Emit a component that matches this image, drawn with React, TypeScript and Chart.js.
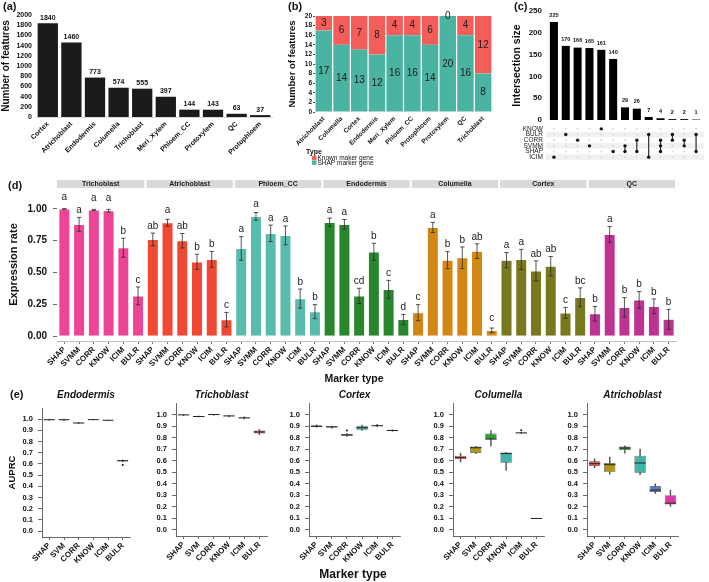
import React, { useEffect, useRef } from 'react';
import { Chart, registerables } from 'chart.js';

Chart.register(...registerables);

const FONT = "'Liberation Sans', Arial, Helvetica, sans-serif";
const INK = '#111111';
const f = (size: number, weight: string = 'normal', style: string = 'normal') => ({ family: FONT, size, weight, style, lineHeight: 1.2 });

// ---------------- (a) number of features ----------------
const aCategories = ['Cortex', 'Atrichoblast', 'Endodermis', 'Columella', 'Trichoblast', 'Meri_Xylem', 'Phloem_CC', 'Protoxylem', 'QC', 'Protophloem'];
const aValues = [1840, 1460, 773, 574, 555, 397, 144, 143, 63, 37];
const aTicks = [0, 200, 400, 600, 800, 1000, 1200, 1400, 1600, 1800, 2000];

// ---------------- (b) stacked marker genes ----------------
const bCategories = ['Atrichoblast', 'Columella', 'Cortex', 'Endodermis', 'Meri_Xylem', 'Phloem_CC', 'Protophloem', 'Protoxylem', 'QC', 'Trichoblast'];
const bShap = [17, 14, 13, 12, 16, 16, 14, 20, 16, 8];
const bKnown = [3, 6, 7, 8, 4, 4, 6, 0, 4, 12];
const bTicks = [0, 2, 4, 6, 8, 10, 12, 14, 16, 18, 20];
const bRed = '#F35E5A';
const bTeal = '#4BB3A2';

// ---------------- (c) upset ----------------
const cSets = ['KNOW', 'BULR', 'CORR', 'SVMM', 'SHAP', 'ICIM'];
const cSizes = [225, 170, 166, 165, 161, 140, 29, 26, 7, 4, 2, 2, 1];
const cMembers = [
  ['ICIM'], ['BULR'], ['CORR'], ['SVMM'], ['KNOW'], ['SHAP'],
  ['SVMM', 'SHAP'], ['CORR', 'SHAP'], ['BULR', 'ICIM'], ['CORR', 'SVMM', 'SHAP'],
  ['BULR', 'CORR'], ['CORR', 'SVMM'], ['BULR', 'SHAP'],
];
const cTicks = [0, 50, 100, 150, 200, 250];

// ---------------- (d) expression rate ----------------
const dFacets = ['Trichoblast', 'Atrichoblast', 'Phloem_CC', 'Endodermis', 'Columella', 'Cortex', 'QC'];
const dMarkers = ['SHAP', 'SVMM', 'CORR', 'KNOW', 'ICIM', 'BULR'];
const dColors = ['#EE4496', '#F04832', '#58BCAC', '#28872D', '#D28714', '#78781E', '#BE3291'];
const dMeans = [
  [1.0, 0.879, 0.992, 0.987, 0.695, 0.316],
  [0.76, 0.892, 0.75, 0.584, 0.603, 0.129],
  [0.689, 0.942, 0.808, 0.792, 0.295, 0.192],
  [0.895, 0.879, 0.316, 0.663, 0.368, 0.13],
  [0.184, 0.855, 0.597, 0.616, 0.668, 0.045],
  [0.597, 0.603, 0.513, 0.55, 0.182, 0.305],
  [0.176, 0.8, 0.226, 0.284, 0.234, 0.132],
];
const dSE = [
  [0.002, 0.055, 0.005, 0.01, 0.075, 0.07],
  [0.05, 0.027, 0.057, 0.06, 0.063, 0.057],
  [0.093, 0.03, 0.065, 0.074, 0.075, 0.055],
  [0.033, 0.038, 0.06, 0.067, 0.07, 0.04],
  [0.063, 0.04, 0.067, 0.085, 0.058, 0.018],
  [0.06, 0.079, 0.079, 0.076, 0.043, 0.074],
  [0.057, 0.062, 0.076, 0.066, 0.058, 0.078],
];
const dLetters = [
  ['a', 'a', 'a', 'a', 'b', 'c'],
  ['ab', 'a', 'ab', 'b', 'b', 'c'],
  ['a', 'a', 'a', 'a', 'b', 'b'],
  ['a', 'a', 'cd', 'b', 'c', 'd'],
  ['c', 'a', 'b', 'b', 'ab', 'c'],
  ['a', 'a', 'ab', 'ab', 'c', 'bc'],
  ['b', 'a', 'b', 'b', 'b', 'b'],
];
const dTicks = [0, 0.25, 0.5, 0.75, 1.0];

// ---------------- (e) AUPRC boxplots: [min, q1, median, q3, max] ----------------
const eMarkers = ['SHAP', 'SVM', 'CORR', 'KNOW', 'ICIM', 'BULR'];
const eColors = ['#EE5252', '#B09810', '#2E9E2E', '#40B5A8', '#5A7ABE', '#D83CA8'];
const eTicks = [0, 0.1, 0.2, 0.3, 0.4, 0.5, 0.6, 0.7, 0.8, 0.9, 1.0];
const eEndodermis = [[0.99, 0.993, 0.995, 0.997, 1.0], [0.99, 0.993, 0.995, 0.997, 1.0], [0.962, 0.964, 0.966, 0.968, 0.97], [0.994, 0.995, 0.996, 0.997, 0.998], [0.988, 0.989, 0.99, 0.991, 0.992], [0.62, 0.624, 0.628, 0.632, 0.636]];
const eEndodermisOut = [[], [], [], [], [], [0.59]];
const eTrichoblast = [[0.99, 0.995, 0.997, 0.999, 1.0], [0.98, 0.981, 0.983, 0.985, 0.986], [0.995, 0.998, 1.0, 1.0, 1.0], [0.98, 0.985, 0.988, 0.99, 0.992], [0.962, 0.968, 0.971, 0.974, 0.98], [0.825, 0.835, 0.849, 0.862, 0.87]];
const eTrichoblastOut = [[], [], [], [], [], []];
const eCortex = [[0.89, 0.893, 0.899, 0.905, 0.91], [0.882, 0.887, 0.893, 0.898, 0.9], [0.81, 0.817, 0.823, 0.832, 0.835], [0.862, 0.868, 0.886, 0.903, 0.908], [0.895, 0.9, 0.903, 0.906, 0.915], [0.855, 0.858, 0.862, 0.866, 0.868]];
const eCortexOut = [[], [], [0.861], [], [], []];
const eColumella = [[0.588, 0.612, 0.626, 0.643, 0.664], [0.66, 0.667, 0.712, 0.722, 0.725], [0.725, 0.783, 0.788, 0.835, 0.861], [0.516, 0.583, 0.661, 0.67, 0.67], [0.836, 0.838, 0.841, 0.843, 0.846], [0.097, 0.098, 0.099, 0.1, 0.101]];
const eColumellaOut = [[], [], [], [], [0.864], []];
const eAtrichoblast = [[0.539, 0.554, 0.574, 0.594, 0.617], [0.484, 0.501, 0.565, 0.58, 0.632], [0.664, 0.693, 0.71, 0.722, 0.728], [0.478, 0.496, 0.58, 0.643, 0.701], [0.316, 0.328, 0.345, 0.38, 0.4], [0.203, 0.22, 0.232, 0.301, 0.345]];
const eAtrichoblastOut = [[], [], [], [], [], []];

// ---------------- helpers ----------------
const fixWidth = (w: number) => (s: any) => { s.width = w; s.paddingTop = 0; s.paddingBottom = 0; };
const fixHeight = (h: number) => (s: any) => { s.height = h; s.paddingLeft = 0; s.paddingRight = 0; };
const setTicks = (vals: number[]) => (s: any) => { s.ticks = vals.map((v) => ({ value: v })); };
const baseOpts = (padding: any) => ({
  responsive: false,
  animation: false,
  events: [],
  layout: { padding },
  plugins: { legend: { display: false }, tooltip: { enabled: false }, title: { display: false } },
});
const text = (ctx: any, s: string, x: number, y: number, font: string, align = 'center', color = INK, baseline = 'middle') => {
  ctx.save();
  ctx.font = font;
  ctx.fillStyle = color;
  ctx.textAlign = align;
  ctx.textBaseline = baseline;
  ctx.fillText(s, x, y);
  ctx.restore();
};

// ---------------- chart builders ----------------
function makeA() {
  return {
    type: 'bar',
    data: { labels: aCategories, datasets: [{ data: aValues, backgroundColor: '#1b1b1b', barPercentage: 0.86, categoryPercentage: 1 }] },
    options: {
      ...baseOpts({ left: 0, right: 10, top: 15, bottom: 0 }),
      scales: {
        x: {
          grid: { display: false, drawTicks: false },
          border: { display: true, color: '#d6d6d6' },
          ticks: { font: f(7, 'bold'), color: INK, minRotation: 45, maxRotation: 45, autoSkip: false, padding: 3 },
          afterFit: fixHeight(53),
        },
        y: {
          min: 0, max: 2000,
          grid: { display: false, drawTicks: false },
          border: { display: false },
          ticks: { font: f(7, 'bold'), color: INK, padding: 4, autoSkip: false, callback: (v: any) => String(v) },
          afterBuildTicks: setTicks(aTicks),
          title: { display: true, text: 'Number of features', font: f(10, 'bold'), color: INK, padding: { top: 0, bottom: 0 } },
          afterFit: fixWidth(36),
        },
      },
    },
    plugins: [{
      id: 'aLabels',
      afterDatasetsDraw(chart: any) {
        const meta = chart.getDatasetMeta(0);
        meta.data.forEach((el: any, i: number) => text(chart.ctx, String(aValues[i]), el.x, el.y - 2, `bold 7px ${FONT}`, 'center', INK, 'bottom'));
        text(chart.ctx, '(a)', 3, 7, `bold 11px ${FONT}`, 'left');
      },
    }],
  };
}

function makeB() {
  return {
    type: 'bar',
    data: {
      labels: bCategories,
      datasets: [
        { label: 'SHAP marker gene', data: bShap, backgroundColor: bTeal, stack: 's', barPercentage: 0.93, categoryPercentage: 1 },
        { label: 'Known maker gene', data: bKnown, backgroundColor: bRed, stack: 's', barPercentage: 0.93, categoryPercentage: 1 },
      ],
    },
    options: {
      ...baseOpts({ left: 0, right: 8, top: 16, bottom: 0 }),
      scales: {
        x: {
          stacked: true,
          grid: { display: false, drawTicks: false },
          border: { display: false },
          ticks: { font: f(6.5, 'bold'), color: INK, minRotation: 45, maxRotation: 45, autoSkip: false, padding: 3 },
          afterFit: fixHeight(60),
        },
        y: {
          stacked: true, min: 0, max: 20,
          grid: { drawOnChartArea: false, drawTicks: true, tickLength: 2, color: '#555' },
          border: { display: false },
          ticks: { font: f(6.5, 'bold'), color: INK, padding: 1, autoSkip: false, callback: (v: any) => String(v) },
          afterBuildTicks: setTicks(bTicks),
          title: { display: true, text: 'Number of features', font: f(9.5, 'bold'), color: INK, padding: { top: 5, bottom: 0 } },
          afterFit: fixWidth(33),
        },
      },
    },
    plugins: [{
      id: 'bLabels',
      afterDatasetsDraw(chart: any) {
        const ctx = chart.ctx;
        [bShap, bKnown].forEach((vals, d) => {
          chart.getDatasetMeta(d).data.forEach((el: any, i: number) => {
            text(ctx, String(vals[i]), el.x, (el.y + el.base) / 2, `10px ${FONT}`, 'center', '#1a1a1a');
          });
        });
        text(ctx, '(b)', 6, 7, `bold 11px ${FONT}`, 'left');
        text(ctx, 'Type', 24, 152, `bold 7px ${FONT}`, 'left');
        ctx.save();
        ctx.fillStyle = bRed; ctx.fillRect(30, 156, 4.5, 4.3);
        ctx.fillStyle = bTeal; ctx.fillRect(30, 160.5, 4.5, 4.3);
        ctx.restore();
        text(ctx, 'Known maker gene', 35.5, 158.2, `6.5px ${FONT}`, 'left');
        text(ctx, 'SHAP marker gene', 35.5, 162.8, `6.5px ${FONT}`, 'left');
      },
    }],
  };
}

function makeCBars() {
  return {
    type: 'bar',
    data: { labels: cMembers.map((m) => m.join('&')), datasets: [{ data: cSizes, backgroundColor: '#000', barPercentage: 0.68, categoryPercentage: 1 }] },
    options: {
      ...baseOpts({ left: 0, right: 7, top: 11, bottom: 2 }),
      scales: {
        x: { display: false },
        y: {
          min: 0, max: 250,
          grid: { display: false, drawTicks: false },
          border: { display: false },
          ticks: { font: f(8, 'bold'), color: INK, padding: 6, autoSkip: false, callback: (v: any) => String(v) },
          afterBuildTicks: setTicks(cTicks),
          title: { display: true, text: 'Intersection size', font: f(10.5, 'bold'), color: INK, padding: { top: 11, bottom: 0 } },
          afterFit: fixWidth(48),
        },
      },
    },
    plugins: [{
      id: 'cLabels',
      afterDatasetsDraw(chart: any) {
        chart.getDatasetMeta(0).data.forEach((el: any, i: number) => text(chart.ctx, String(cSizes[i]), el.x, el.y - 4, `bold 5.5px ${FONT}`, 'center', INK, 'bottom'));
        text(chart.ctx, '(c)', 14, 7, `bold 11px ${FONT}`, 'left');
      },
    }],
  };
}

function makeCMatrix() {
  const all: any[] = [];
  cMembers.forEach((_, c) => cSets.forEach((__, r) => all.push({ x: c, y: r })));
  const on: any[] = [];
  const lines: any[] = [];
  cMembers.forEach((m, c) => {
    const rows = m.map((s) => cSets.indexOf(s));
    rows.forEach((r) => on.push({ x: c, y: r }));
    if (rows.length > 1) {
      lines.push({
        type: 'line', data: [{ x: c, y: Math.min(...rows) }, { x: c, y: Math.max(...rows) }],
        borderColor: '#222', borderWidth: 1.1, pointRadius: 0, showLine: true, order: 1,
      });
    }
  });
  return {
    type: 'scatter',
    data: {
      datasets: [
        { data: all, pointRadius: 1.1, backgroundColor: '#dcdcdc', borderWidth: 0, order: 2 },
        ...lines,
        { data: on, pointRadius: 1.7, backgroundColor: '#111', borderWidth: 0, order: 0 },
      ],
    },
    options: {
      ...baseOpts({ left: 0, right: 7, top: 1.6, bottom: 3.2 }),
      scales: {
        x: { type: 'linear', display: false, min: -0.5, max: cSizes.length - 0.5 },
        y: {
          type: 'linear', reverse: true, min: -0.5, max: cSets.length - 0.5,
          grid: { display: false, drawTicks: false },
          border: { display: false },
          ticks: { font: f(6.5), color: '#222', padding: 5, autoSkip: false, callback: (v: any) => cSets[v] ?? '' },
          afterBuildTicks: setTicks(cSets.map((_, i) => i)),
          afterFit: fixWidth(48),
        },
      },
    },
    plugins: [{
      id: 'stripes',
      beforeDatasetsDraw(chart: any) {
        const { ctx, chartArea } = chart;
        const ys = chart.scales.y;
        ctx.save();
        ctx.fillStyle = '#f1f1f1';
        cSets.forEach((_, r) => {
          if (r % 2 === 1) {
            const a = ys.getPixelForValue(r - 0.5);
            const b = ys.getPixelForValue(r + 0.5);
            ctx.fillRect(chartArea.left - 2, Math.min(a, b), chartArea.right - chartArea.left + 4, Math.abs(b - a));
          }
        });
        ctx.restore();
      },
    }],
  };
}

function makeD() {
  const labels = dFacets.flatMap(() => dMarkers);
  const colors = dFacets.flatMap((_, fi) => dMarkers.map(() => dColors[fi]));
  const means = dMeans.flat();
  const ses = dSE.flat();
  const letters = dLetters.flat();
  return {
    type: 'bar',
    data: { labels, datasets: [{ data: means, backgroundColor: colors, borderColor: 'rgba(255,255,255,0.35)', borderWidth: 0.6, barPercentage: 0.76, categoryPercentage: 1 }] },
    options: {
      ...baseOpts({ left: 0, right: 24, top: 18, bottom: 0 }),
      scales: {
        x: {
          grid: { display: true, drawOnChartArea: false, offset: false, drawTicks: true, tickLength: 3, color: '#444', lineWidth: 0.7 },
          border: { display: true, color: '#bdbdbd', width: 1 },
          ticks: { font: f(8, 'bold'), color: INK, minRotation: 45, maxRotation: 45, autoSkip: false, padding: 1 },
          afterFit: fixHeight(49),
        },
        y: {
          min: -0.039, max: 1.165,
          grid: { display: true, drawOnChartArea: false, drawTicks: true, tickLength: 4, color: '#444', lineWidth: 0.8 },
          border: { display: false },
          ticks: { font: f(10, 'bold'), color: INK, padding: 6, autoSkip: false, callback: (v: any) => Number(v).toFixed(2) },
          afterBuildTicks: setTicks(dTicks),
          title: { display: true, text: 'Expression rate', font: f(11, 'bold'), color: INK, padding: { top: 7, bottom: 0 } },
          afterFit: fixWidth(57),
        },
      },
    },
    plugins: [{
      id: 'dExtras',
      afterDatasetsDraw(chart: any) {
        const { ctx, chartArea } = chart;
        const xs = chart.scales.x;
        const ys = chart.scales.y;
        const meta = chart.getDatasetMeta(0);
        ctx.save();
        ctx.strokeStyle = '#2b2b2b';
        ctx.lineWidth = 0.8;
        meta.data.forEach((el: any, i: number) => {
          const yt = ys.getPixelForValue(means[i] + ses[i]);
          const yb = ys.getPixelForValue(Math.max(0, means[i] - ses[i]));
          ctx.beginPath();
          ctx.moveTo(el.x, yt); ctx.lineTo(el.x, yb);
          ctx.moveTo(el.x - 2.2, yt); ctx.lineTo(el.x + 2.2, yt);
          ctx.moveTo(el.x - 2.2, yb); ctx.lineTo(el.x + 2.2, yb);
          ctx.stroke();
        });
        ctx.restore();
        meta.data.forEach((el: any, i: number) => {
          const v = Math.max(means[i] + 0.095, means[i] + ses[i] + 0.055);
          text(ctx, letters[i], el.x, ys.getPixelForValue(v), `10px ${FONT}`, 'center', '#222');
        });
        const half = (xs.getPixelForValue(1) - xs.getPixelForValue(0)) / 2;
        dFacets.forEach((name, fi) => {
          const l = xs.getPixelForValue(fi * 6) - half + (fi === 0 ? 0 : 1);
          const r = xs.getPixelForValue(fi * 6 + 5) + half - 1;
          ctx.save();
          ctx.fillStyle = '#D9D9D9';
          ctx.fillRect(l, chartArea.top - 8, r - l, 8);
          ctx.restore();
          text(ctx, name, (l + r) / 2, chartArea.top - 4, `bold 7px ${FONT}`, 'center', '#1a1a1a');
        });
        text(ctx, '(d)', 8, 16, `bold 11px ${FONT}`, 'left');
        text(ctx, 'Marker type', 354, 209, `bold 10.5px ${FONT}`, 'center');
      },
    }],
  };
}

function makeE(title: string, stats: number[][], outliers: number[][], geo: any) {
  const outPts: any[] = [];
  outliers.forEach((o, i) => o.forEach((v) => outPts.push({ x: eMarkers[i], y: v })));
  return {
    type: 'bar',
    data: {
      labels: eMarkers,
      datasets: [
        { data: stats.map((s) => [s[0], s[4]]), backgroundColor: '#555', barThickness: 0.8, grouped: false, order: 3 },
        { data: stats.map((s) => [s[1], s[3]]), backgroundColor: eColors, borderColor: '#555', borderWidth: 0.7, borderSkipped: false, barPercentage: 0.75, categoryPercentage: 1, grouped: false, order: 2 },
        { type: 'scatter', data: outPts, pointRadius: 1, backgroundColor: '#111', borderWidth: 0, order: 1 },
      ],
    },
    options: {
      ...baseOpts({ left: 0, right: 4, top: geo.top, bottom: 0 }),
      scales: {
        x: {
          grid: { display: true, drawOnChartArea: false, offset: false, drawTicks: true, tickLength: 3, color: '#444', lineWidth: 0.8 },
          border: { display: true, color: '#444', width: 0.8 },
          ticks: { font: f(8, 'bold'), color: INK, minRotation: 45, maxRotation: 45, autoSkip: false, padding: 1 },
          afterFit: fixHeight(geo.xh),
        },
        y: {
          min: -0.053, max: 1.1,
          grid: { display: true, drawOnChartArea: false, drawTicks: true, tickLength: 4, color: '#444', lineWidth: 0.8 },
          border: { display: true, color: '#444', width: 0.8 },
          ticks: { font: f(7.5, 'bold'), color: INK, padding: 5, autoSkip: false, callback: (v: any) => Number(v).toFixed(1) },
          afterBuildTicks: setTicks(eTicks),
          title: { display: !!geo.ytitle, text: 'AUPRC', font: f(9.5, 'bold'), color: INK, padding: { top: 7, bottom: 0 } },
          afterFit: fixWidth(42),
        },
      },
    },
    plugins: [{
      id: 'eExtras',
      afterDatasetsDraw(chart: any) {
        const { ctx, chartArea } = chart;
        const ys = chart.scales.y;
        const meta = chart.getDatasetMeta(1);
        ctx.save();
        ctx.strokeStyle = '#222';
        ctx.lineWidth = 1;
        meta.data.forEach((el: any, i: number) => {
          const py = ys.getPixelForValue(stats[i][2]);
          ctx.beginPath();
          ctx.moveTo(el.x - el.width / 2, py);
          ctx.lineTo(el.x + el.width / 2, py);
          ctx.stroke();
        });
        ctx.restore();
        text(ctx, title, (chartArea.left + chartArea.right) / 2, 10, `italic bold 10px ${FONT}`, 'center');
        if (geo.label) text(ctx, '(e)', 10, 10, `bold 11px ${FONT}`, 'left');
        if (geo.xtitle) text(ctx, 'Marker type', geo.xtitle, 190, `bold 12px ${FONT}`, 'center');
      },
    }],
  };
}

// panel geometry (page px)
const eAxisX = [42, 176, 309, 453, 587];
const eRightX = [130, 267, 400, 544, 678];
const eTop = [408, 403, 403, 403, 403];
const eBottom = [537, 536, 536, 536, 536];

function ChartPanel({ left, top, width, height, make }: any) {
  const ref = useRef<HTMLCanvasElement | null>(null);
  useEffect(() => {
    if (!ref.current) return;
    const chart = new Chart(ref.current, make());
    return () => chart.destroy();
  }, []);
  return (
    <div style={{ position: 'absolute', left, top, width, height }}>
      <canvas ref={ref} width={width} height={height} style={{ display: 'block', width, height }} />
    </div>
  );
}

export default function App() {
  const panels: any[] = [
    { left: 0, top: 0, width: 282, height: 170, make: makeA },
    { left: 282, top: 0, width: 218, height: 172, make: makeB },
    { left: 500, top: 0, width: 209, height: 122, make: makeCBars },
    { left: 500, top: 122, width: 209, height: 42, make: makeCMatrix },
    { left: 0, top: 170, width: 700, height: 220, make: makeD },
  ];
  const eTitles = ['Endodermis', 'Trichoblast', 'Cortex', 'Columella', 'Atrichoblast'];
  const eStats = [eEndodermis, eTrichoblast, eCortex, eColumella, eAtrichoblast];
  const eOut = [eEndodermisOut, eTrichoblastOut, eCortexOut, eColumellaOut, eAtrichoblastOut];
  eTitles.forEach((t, k) => {
    const left = eAxisX[k] - 42;
    const geo = {
      top: eTop[k] - 385,
      xh: 197 - (eBottom[k] - 385),
      ytitle: k === 0,
      label: k === 0,
      xtitle: k === 2 ? 353 - left : 0,
    };
    panels.push({ left, top: 385, width: eRightX[k] - eAxisX[k] + 46, height: 197, make: () => makeE(t, eStats[k], eOut[k], geo) });
  });
  return (
    <div style={{ position: 'fixed', left: 0, top: 0, width: 709, height: 582, background: '#fff', overflow: 'hidden' }}>
      {panels.map((p, i) => <ChartPanel key={i} {...p} />)}
    </div>
  );
}
